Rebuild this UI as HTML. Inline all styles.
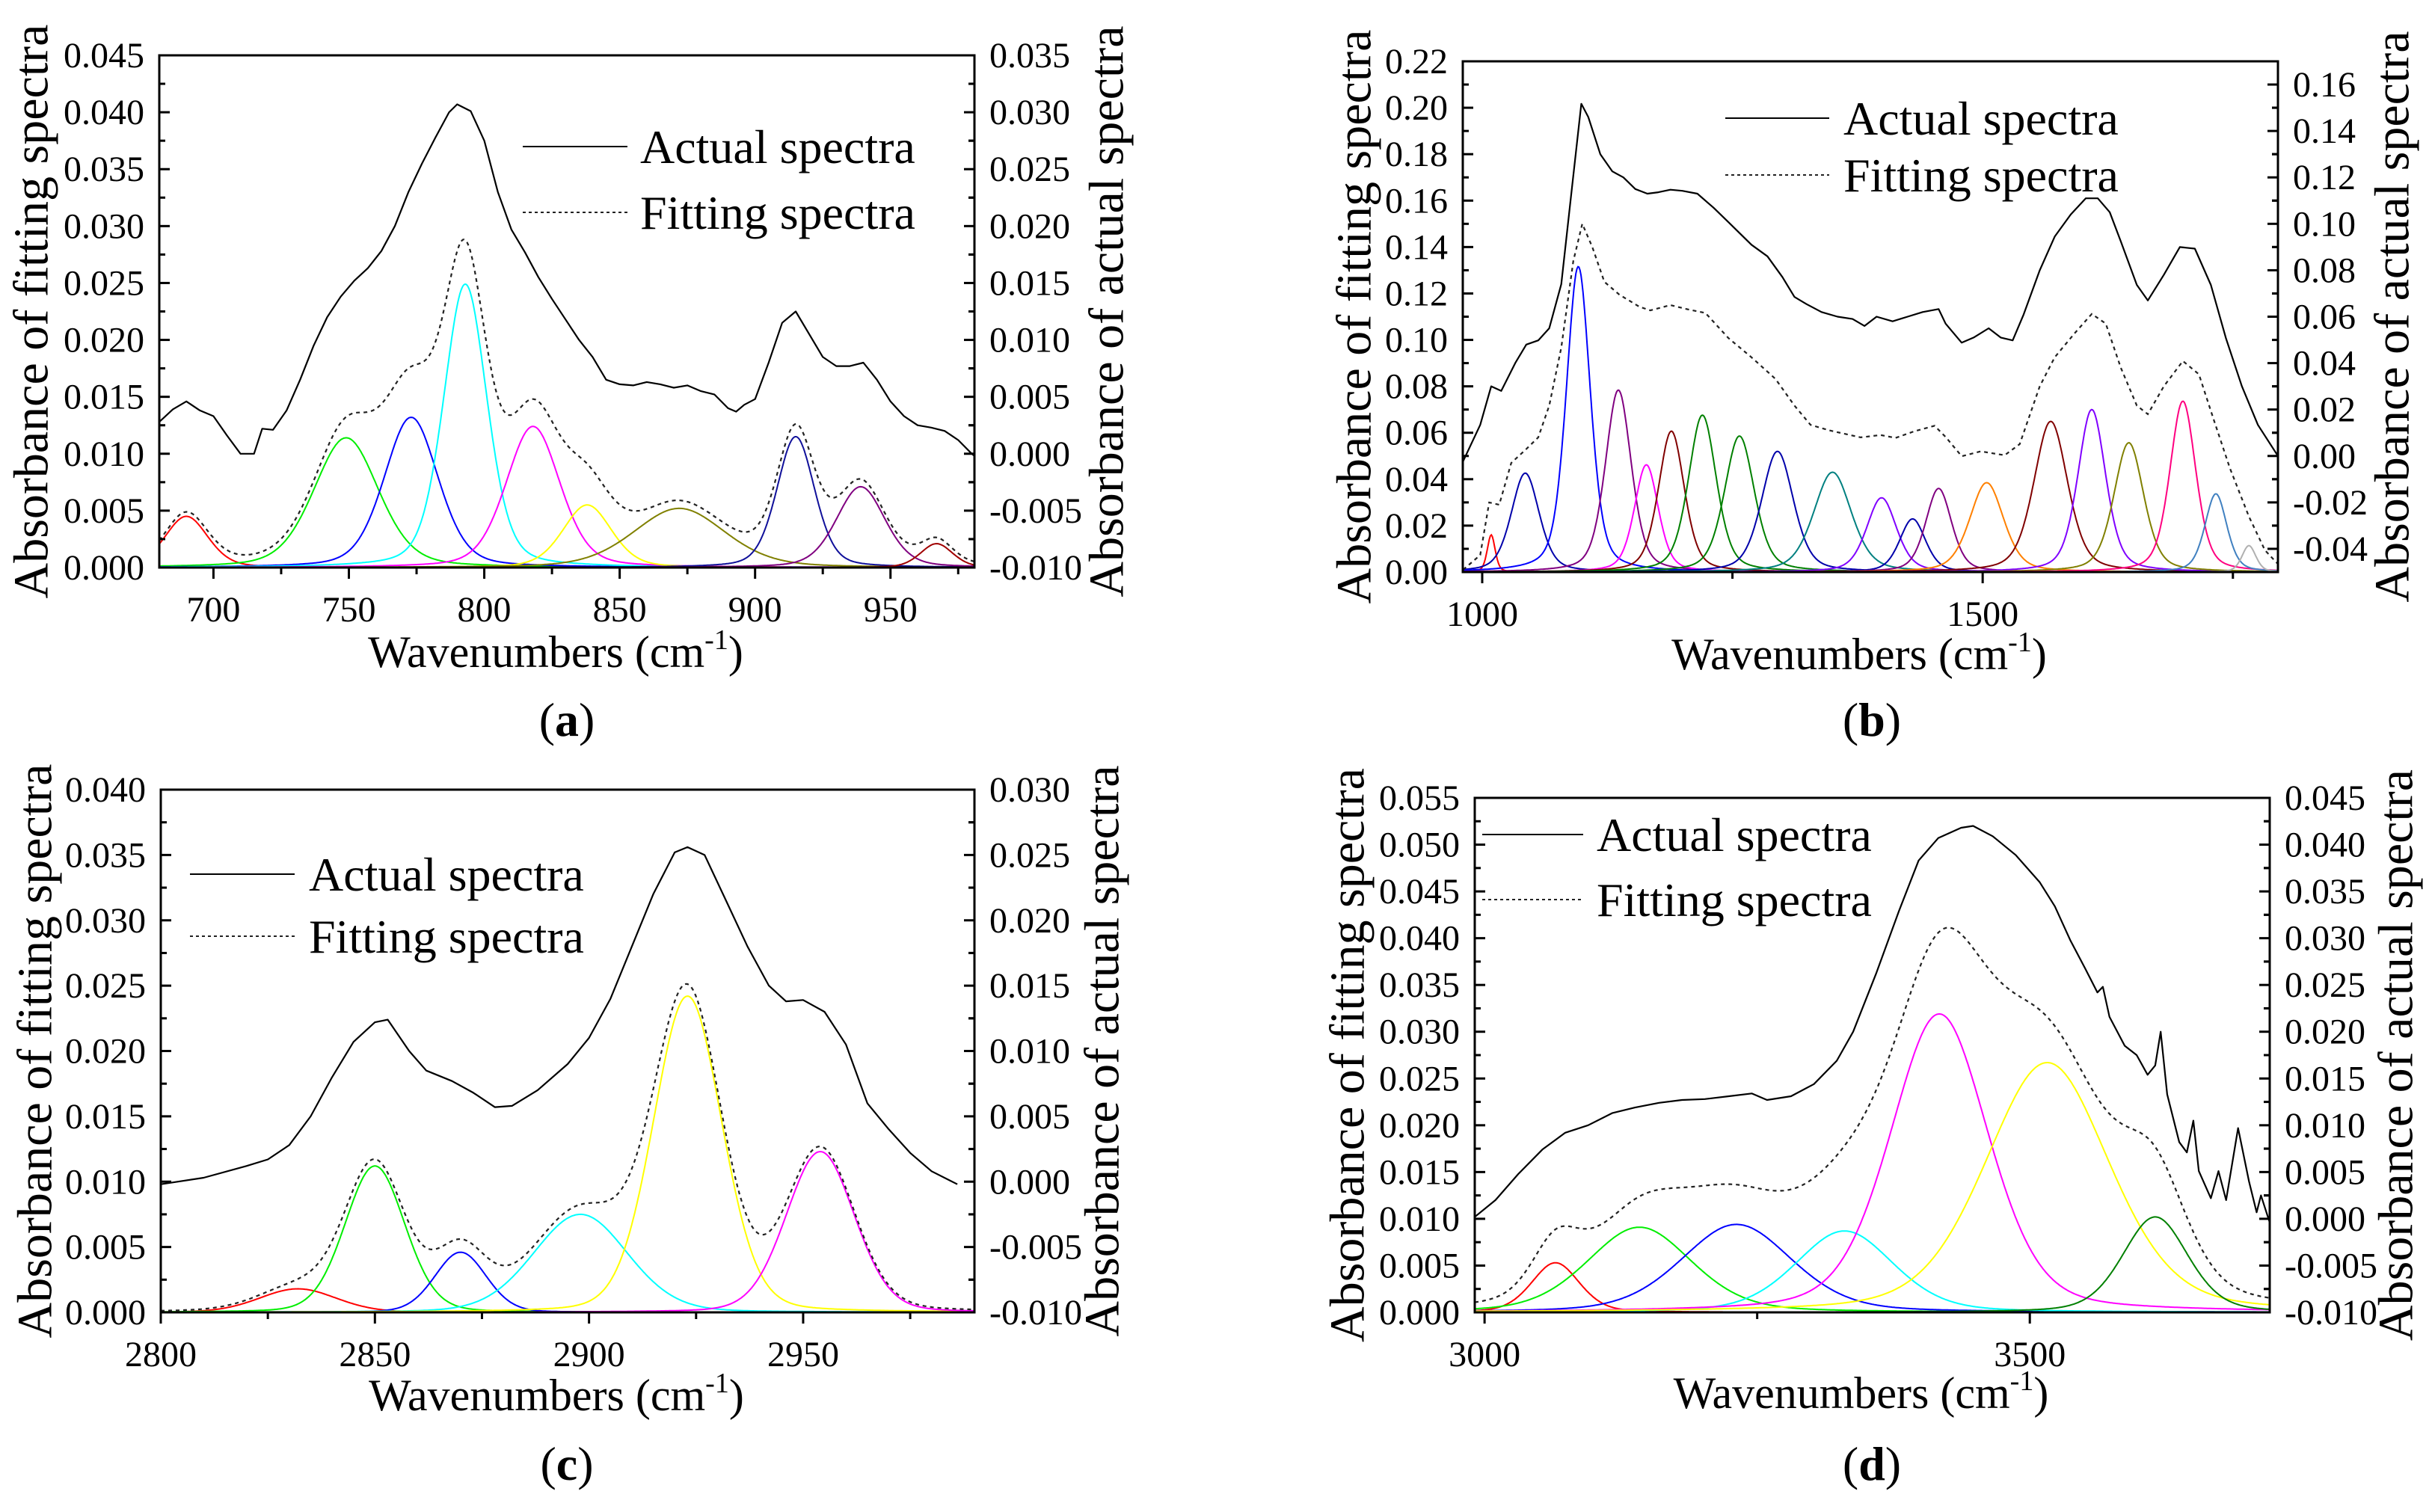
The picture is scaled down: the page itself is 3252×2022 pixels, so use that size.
<!DOCTYPE html>
<html><head><meta charset="utf-8">
<style>
html,body{margin:0;padding:0;background:#fff;}
svg{display:block;}
svg text{font-family:"Liberation Serif","Times New Roman",serif;}
</style></head>
<body>
<svg id="fig" width="3252" height="2022" viewBox="0 0 3252 2022" xmlns="http://www.w3.org/2000/svg" font-family="Liberation Serif, serif"></svg>
<script>
// ---------- Panel A data ----------
const aCenters=[690,749,773,793,818,838,872,915,939,967];
const aHeights=[0.0045,0.0114,0.0132,0.0249,0.0124,0.0055,0.0052,0.0115,0.0071,0.0021];
const aSigmas=[8,12,10,8,10,9,17,7,9,6];
const aColors=["#ff0000","#00ee00","#0000ff","#00ffff","#ff00ff","#ffff00","#808000","#10109a","#800080","#a00000"];
const aActualX=[680,685,690,695,700,705,710,715,718,722,727,732,737,742,747,752,757,762,767,772,777,782,787,790,795,800,805,810,815,820,825,830,835,840,845,850,855,860,865,870,875,880,885,890,893,896,900,905,910,915,920,925,930,935,940,945,950,955,960,965,970,975,980,981];
const aActualY=[0.0028,0.0039,0.0046,0.0038,0.0033,0.0016,0.0000,0.0000,0.0022,0.0021,0.0038,0.0065,0.0095,0.0120,0.0138,0.0152,0.0163,0.0178,0.0200,0.0230,0.0255,0.0278,0.0300,0.0307,0.0301,0.0275,0.0230,0.0197,0.0177,0.0155,0.0136,0.0118,0.0100,0.0085,0.0065,0.0061,0.0060,0.0063,0.0061,0.0058,0.0060,0.0055,0.0052,0.0040,0.0037,0.0043,0.0048,0.0080,0.0115,0.0125,0.0105,0.0085,0.0077,0.0077,0.0080,0.0065,0.0046,0.0033,0.0025,0.0023,0.0020,0.0012,0.0000,-0.0002];
const aLeftTicks=["0.000","0.005","0.010","0.015","0.020","0.025","0.030","0.035","0.040","0.045"];
const aRightTicks=["-0.010","-0.005","0.000","0.005","0.010","0.015","0.020","0.025","0.030","0.035"];
const aXTicks=[700,750,800,850,900,950];

// ---------- Panel B data ----------
const bCenters=[1009,1043,1096,1136,1164,1189,1220,1257,1295,1350,1399,1430,1456,1504,1568,1609,1646,1700,1733,1766];
const bHeights=[0.016,0.0426,0.1316,0.0784,0.0462,0.0607,0.0676,0.0586,0.052,0.043,0.032,0.0229,0.036,0.0385,0.0649,0.070,0.0557,0.0736,0.0337,0.0114];
const bSigmas=[4,14,12,13,12,13,14,15,16,19,15,13,13,17,17,14,15,13,11,7];
const bColors=["#ff0000","#0000aa","#0000ff","#800080","#ff00ff","#800000","#008000","#008000","#0000aa","#008080","#8000ff","#0000aa","#800080","#ff8000","#800000","#8000ff","#808000","#ff0080","#4080c0","#b0b0b0"];
const bActualX=[981,998,1009,1019,1033,1044,1056,1067,1079,1089,1099,1106,1118,1130,1141,1153,1165,1176,1188,1200,1215,1231,1246,1269,1285,1300,1312,1324,1339,1355,1370,1382,1394,1410,1425,1440,1456,1463,1479,1491,1506,1518,1530,1541,1557,1572,1588,1603,1615,1627,1638,1654,1665,1681,1697,1712,1728,1743,1759,1775,1795];
const bActualY=[-0.0022,0.0134,0.030,0.028,0.040,0.048,0.0498,0.055,0.074,0.113,0.1517,0.146,0.130,0.1226,0.120,0.115,0.113,0.1136,0.1147,0.1142,0.113,0.107,0.1007,0.091,0.086,0.077,0.0685,0.0654,0.062,0.060,0.059,0.056,0.060,0.058,0.060,0.062,0.0633,0.057,0.0488,0.051,0.055,0.051,0.0498,0.061,0.080,0.0945,0.104,0.111,0.111,0.105,0.0924,0.0737,0.067,0.078,0.090,0.0893,0.0737,0.0508,0.030,0.0134,0.000];
const bFitX=[981,998,1007,1017,1029,1044,1056,1067,1079,1091,1100,1110,1122,1137,1157,1168,1188,1207,1223,1246,1269,1293,1312,1328,1347,1378,1398,1413,1432,1452,1463,1479,1498,1522,1537,1557,1572,1592,1609,1623,1638,1654,1665,1681,1700,1716,1731,1747,1766,1782,1796];
const bFitY=[0.001,0.0073,0.030,0.029,0.047,0.053,0.058,0.0717,0.0967,0.134,0.150,0.140,0.125,0.1195,0.1143,0.1127,0.115,0.113,0.1116,0.1008,0.0925,0.0832,0.0717,0.0634,0.061,0.058,0.059,0.0578,0.0607,0.063,0.0582,0.0499,0.052,0.0503,0.0551,0.080,0.0925,0.1029,0.1112,0.107,0.088,0.0717,0.068,0.080,0.0909,0.0852,0.0655,0.0447,0.0239,0.0094,0.003];
const bLeftTicks=["0.00","0.02","0.04","0.06","0.08","0.10","0.12","0.14","0.16","0.18","0.20","0.22"];
const bRightTicks=["-0.04","-0.02","0.00","0.02","0.04","0.06","0.08","0.10","0.12","0.14","0.16"];
const bXTicks=[1000,1500];

// ---------- Panel C data ----------
const cCenters=[2832,2850,2870,2898,2923,2954];
const cHeights=[0.0018,0.0112,0.0046,0.0075,0.0242,0.0123];
const cSigmas=[9,7,6,11,8,8];
const cColors=["#ff0000","#00ee00","#0000ff","#00ffff","#ffff00","#ff00ff"];
const cActualX=[2800,2810,2820,2825,2830,2835,2840,2845,2850,2853,2858,2862,2868,2873,2878,2882,2888,2895,2900,2905,2910,2915,2920,2923,2927,2932,2937,2942,2946,2950,2955,2960,2965,2970,2975,2980,2986];
const cActualY=[-0.0002,0.0003,0.0012,0.0017,0.0028,0.0050,0.0080,0.0107,0.0122,0.0124,0.0100,0.0085,0.0077,0.0068,0.0057,0.0058,0.0070,0.0090,0.0110,0.0140,0.0180,0.0220,0.0252,0.0256,0.0250,0.0215,0.0180,0.0150,0.0138,0.0139,0.0130,0.0105,0.0060,0.0040,0.0022,0.0008,-0.0002];
const cLeftTicks=["0.000","0.005","0.010","0.015","0.020","0.025","0.030","0.035","0.040"];
const cRightTicks=["-0.010","-0.005","0.000","0.005","0.010","0.015","0.020","0.025","0.030"];
const cXTicks=[2800,2850,2900,2950];

// ---------- Panel D data ----------
const dCenters=[3065,3142,3231,3330,3417,3516,3615];
const dHeights=[0.0053,0.0091,0.0094,0.0087,0.0319,0.0267,0.0102];
const dSigmas=[22,48,51,45,45,57,30];
const dColors=["#ff0000","#00ee00","#0000ff","#00ffff","#ff00ff","#ffff00","#008000"];
const dActualX=[2991,3010,3031,3053,3074,3095,3117,3138,3160,3181,3202,3224,3245,3259,3281,3302,3323,3338,3359,3380,3398,3416,3437,3448,3466,3487,3509,3523,3537,3551,3562,3567,3573,3587,3598,3608,3615,3620,3626,3637,3644,3650,3655,3666,3673,3680,3691,3701,3708,3712,3720];
const dActualY=[0.0002,0.002,0.0048,0.0074,0.0092,0.010,0.0113,0.0119,0.0124,0.0127,0.0128,0.0131,0.0134,0.0127,0.0131,0.0144,0.0169,0.020,0.0262,0.0329,0.0383,0.0407,0.0418,0.042,0.0409,0.0389,0.036,0.0334,0.0298,0.0267,0.0242,0.0248,0.0216,0.0185,0.0175,0.0154,0.0164,0.020,0.0133,0.0082,0.0071,0.0105,0.0051,0.0022,0.0051,0.002,0.0097,0.004,0.0007,0.0025,-0.0004];
const dLeftTicks=["0.000","0.005","0.010","0.015","0.020","0.025","0.030","0.035","0.040","0.045","0.050","0.055"];
const dRightTicks=["-0.010","-0.005","0.000","0.005","0.010","0.015","0.020","0.025","0.030","0.035","0.040","0.045"];
const dXTicks=[3000,3500];

const NS="http://www.w3.org/2000/svg";
const FF='"Liberation Serif", "Times New Roman", serif';
const svg=document.getElementById('fig');
function mk(tag,attrs,parent){const e=document.createElementNS(NS,tag);for(const k in attrs)e.setAttribute(k,attrs[k]);if(tag==='text')e.setAttribute('font-family',FF);(parent||svg).appendChild(e);return e;}

function drawPanel(p){
  const g=mk('g',{});
  
  
  const W=p.x1-p.x0,H=p.y1-p.y0;
  const sx=w=>p.x0+(w-p.xmin)/(p.xmax-p.xmin)*W;
  const syL=v=>p.y1-(v-p.lmin)/(p.lmax-p.lmin)*H;
  const syR=v=>p.y1-(v-p.rmin)/(p.rmax-p.rmin)*H;
  const cid='clip-'+p.id;
  const cp=mk('clipPath',{id:cid},g);mk('rect',{x:p.x0,y:p.y0,width:W,height:H},cp);
  const plot=mk('g',{'clip-path':'url(#'+cid+')'},g);
  const n=p.centers.length;const step=(p.xmax-p.xmin)/800;
  const sum=[];const xs=[];
  for(let w=p.xmin;w<=p.xmax+1e-9;w+=step){xs.push(w);sum.push(0);}
  const eta=p.eta;
  for(let i=0;i<n;i++){
    let d='';
    const s=p.sigmas[i],hw=1.1774*s;
    xs.forEach((w,j)=>{const dx=w-p.centers[i];
      const v=p.heights[i]*((1-eta)*Math.exp(-dx*dx/(2*s*s))+eta/(1+dx*dx/(hw*hw)));
      sum[j]+=v;d+=(j?'L':'M')+sx(w).toFixed(1)+','+syL(v).toFixed(1);});
    const el=mk('path',{d:d,fill:'none',stroke:p.colors[i],'stroke-width':2},plot);
    
    
  }
  let fd='';
  if(p.fx){p.fx.forEach((w,j)=>{fd+=(j?'L':'M')+sx(w).toFixed(1)+','+syL(p.fy[j]).toFixed(1);});}
  else{xs.forEach((w,j)=>{fd+=(j?'L':'M')+sx(w).toFixed(1)+','+syL(sum[j]).toFixed(1);});}
  const fit=mk('path',{d:fd,fill:'none',stroke:'#222','stroke-width':2.2,'stroke-dasharray':'5,5'},plot);
  
  
  let ad='';p.ax.forEach((w,j)=>{ad+=(j?'L':'M')+sx(w).toFixed(1)+','+syR(p.ay[j]).toFixed(1);});
  const act=mk('path',{d:ad,fill:'none',stroke:'#000','stroke-width':2.2,'stroke-linejoin':'round'},plot);
  
  
  const fr=mk('rect',{x:p.x0,y:p.y0,width:W,height:H,fill:'none',stroke:'#000','stroke-width':3},g);
  
  
  const lStep=(p.lmax-p.lmin)/(p.lt.length-1);
  p.lt.forEach((t,i)=>{
    const v=parseFloat(t),y=syL(v);
    mk('line',{x1:p.x0,x2:p.x0+14,y1:y,y2:y,stroke:'#000','stroke-width':3},g);
    const ym=syL(v+lStep/2); if(v+lStep/2<p.lmax-1e-9) mk('line',{x1:p.x0,x2:p.x0+8,y1:ym,y2:ym,stroke:'#000','stroke-width':3},g);
    const tx=mk('text',{x:p.x0-20,y:y+16,'text-anchor':'end','font-size':48},g);tx.textContent=t;
    
    
  });
  const rStep=parseFloat(p.rt[1])-parseFloat(p.rt[0]);
  p.rt.forEach(t=>{
    const v=parseFloat(t),y=syR(v);
    mk('line',{x1:p.x1,x2:p.x1-14,y1:y,y2:y,stroke:'#000','stroke-width':3},g);
    [v-rStep/2,v+rStep/2].forEach(m=>{if(m>p.rmin&&m<p.rmax){const ym=syR(m);mk('line',{x1:p.x1,x2:p.x1-8,y1:ym,y2:ym,stroke:'#000','stroke-width':3},g);}});
    const tx=mk('text',{x:p.x1+20,y:y+16,'text-anchor':'start','font-size':48},g);tx.textContent=t;
    
    
  });
  for(let m=Math.ceil(p.xmin/p.minor)*p.minor;m<=p.xmax;m+=p.minor){
    const major=(m%p.major===0);
    mk('line',{x1:sx(m),x2:sx(m),y1:p.y1,y2:p.y1+(major?15:9),stroke:'#000','stroke-width':3},g);
  }
  p.xt.forEach(t=>{const tx=mk('text',{x:sx(t),y:p.y1+72,'text-anchor':'middle','font-size':48},g);tx.textContent=t;
    
    });
  const yl=mk('text',{x:0,y:0,transform:'translate('+p.ltx+','+((p.y0+p.y1)/2)+') rotate(-90)','text-anchor':'middle','dominant-baseline':'central','font-size':66},g);
  yl.textContent='Absorbance of fitting spectra';
  
  
  const yr=mk('text',{x:0,y:0,transform:'translate('+p.rtx+','+((p.y0+p.y1)/2)+') rotate(-90)','text-anchor':'middle','dominant-baseline':'central','font-size':66},g);
  yr.textContent='Absorbance of actual spectra';
  
  
  const xt=mk('text',{x:(p.x0+p.x1)/2-15,y:p.xty+20,'text-anchor':'middle','font-size':60},g);
  xt.innerHTML='Wavenumbers (cm<tspan dy="-24" font-size="38">-1</tspan><tspan dy="24">)</tspan>';
  
  
  const pl=mk('text',{x:p.plx,y:p.ply+22,'text-anchor':'middle','font-size':64},g);
  pl.innerHTML='(<tspan font-weight="bold">'+p.id+'</tspan>)';
  
  
  const lg=mk('g',{},g);
  
  
  mk('line',{x1:p.lgx0,x2:p.lgx1,y1:p.lgy1,y2:p.lgy1,stroke:'#000','stroke-width':2},lg);
  mk('line',{x1:p.lgx0,x2:p.lgx1,y1:p.lgy2,y2:p.lgy2,stroke:'#222','stroke-width':2,'stroke-dasharray':'4,4'},lg);
  const t1=mk('text',{x:p.lgt,y:p.lgy1+22,'font-size':64},lg);t1.textContent='Actual spectra';
  
  
  const t2=mk('text',{x:p.lgt,y:p.lgy2+22,'font-size':64},lg);t2.textContent='Fitting spectra';
  
  
}

drawPanel({id:'a',eta:0.3,x0:213,x1:1303,y0:74,y1:759,xmin:680,xmax:981,lmin:0,lmax:0.045,rmin:-0.010,rmax:0.035,
 centers:aCenters,heights:aHeights,sigmas:aSigmas,colors:aColors,ax:aActualX,ay:aActualY,lt:aLeftTicks,rt:aRightTicks,xt:aXTicks,major:50,minor:25,
 ltx:42,rtx:1480,xty:872,plx:758,ply:962,lgx0:699,lgx1:839,lgy1:196,lgy2:284,lgt:856});
drawPanel({id:'b',eta:0.4,fx:bFitX,fy:bFitY,x0:1956,x1:3046,y0:82,y1:765,xmin:980.6,xmax:1795,lmin:0,lmax:0.22,rmin:-0.05,rmax:0.17,
 centers:bCenters,heights:bHeights,sigmas:bSigmas,colors:bColors,ax:bActualX,ay:bActualY,lt:bLeftTicks,rt:bRightTicks,xt:bXTicks,major:500,minor:250,
 ltx:1811,rtx:3199,xty:875,plx:2503,ply:962,lgx0:2307,lgx1:2446,lgy1:158,lgy2:234,lgt:2465});
drawPanel({id:'c',eta:0.15,x0:215,x1:1303,y0:1056,y1:1755,xmin:2800,xmax:2990,lmin:0,lmax:0.040,rmin:-0.010,rmax:0.030,
 centers:cCenters,heights:cHeights,sigmas:cSigmas,colors:cColors,ax:cActualX,ay:cActualY,lt:cLeftTicks,rt:cRightTicks,xt:cXTicks,major:50,minor:25,
 ltx:47,rtx:1474,xty:1866,plx:758,ply:1957,lgx0:254,lgx1:394,lgy1:1169,lgy2:1252,lgt:413});
drawPanel({id:'d',eta:0.3,x0:1972,x1:3035,y0:1067,y1:1755,xmin:2991,xmax:3720,lmin:0,lmax:0.055,rmin:-0.010,rmax:0.045,
 centers:dCenters,heights:dHeights,sigmas:dSigmas,colors:dColors,ax:dActualX,ay:dActualY,lt:dLeftTicks,rt:dRightTicks,xt:dXTicks,major:500,minor:250,
 ltx:1802,rtx:3204,xty:1863,plx:2503,ply:1957,lgx0:1982,lgx1:2117,lgy1:1116,lgy2:1203,lgt:2135});
</script>
</body></html>
